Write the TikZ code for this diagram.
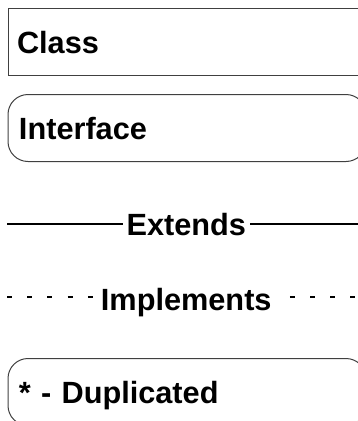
\documentclass[tikz,border=0pt]{standalone}
\usepackage{fontspec}
\setmainfont{Liberation Sans}
\begin{document}
\begin{tikzpicture}[x=1pt,y=-1pt,
  lab/.style={font=\bfseries\fontsize{30.7}{34}\selectfont, text height=22pt, text depth=0pt},
  legendbox/.style={lab, draw=black!75, line width=1pt, anchor=north west,
     minimum width=358pt, minimum height=67pt, text width=340pt, inner xsep=9pt, align=left},
  roundbox/.style={legendbox, rounded corners=20pt, inner xsep=11pt, text width=336pt},
  linelabel/.style={lab, fill=white, inner xsep=4pt, inner ysep=2pt},
  solidline/.style={line width=2pt},
  dashline/.style={line width=2pt, dash pattern=on 5pt off 15.2pt}]
\useasboundingbox (0,0) rectangle (358,421);
\clip (0,0) rectangle (358,421);
\node[legendbox] (class) at (7.5,8) {Class};
\node[roundbox] (iface) at (7.5,94) {Interface};
\coordinate (e1) at (7,224);
\coordinate (e2) at (365.5,224);
\draw[solidline] (e1) -- node[linelabel] (ext) {Extends} (e2);
\coordinate (i1) at (7,297);
\coordinate (i2) at (365.5,297);
\draw[dashline] (i1) -- node[linelabel, yshift=-2pt] (impl) {Implements} (i2);
\node[roundbox] (dup) at (7.5,358) {* - Duplicated};
\end{tikzpicture}
\end{document}
